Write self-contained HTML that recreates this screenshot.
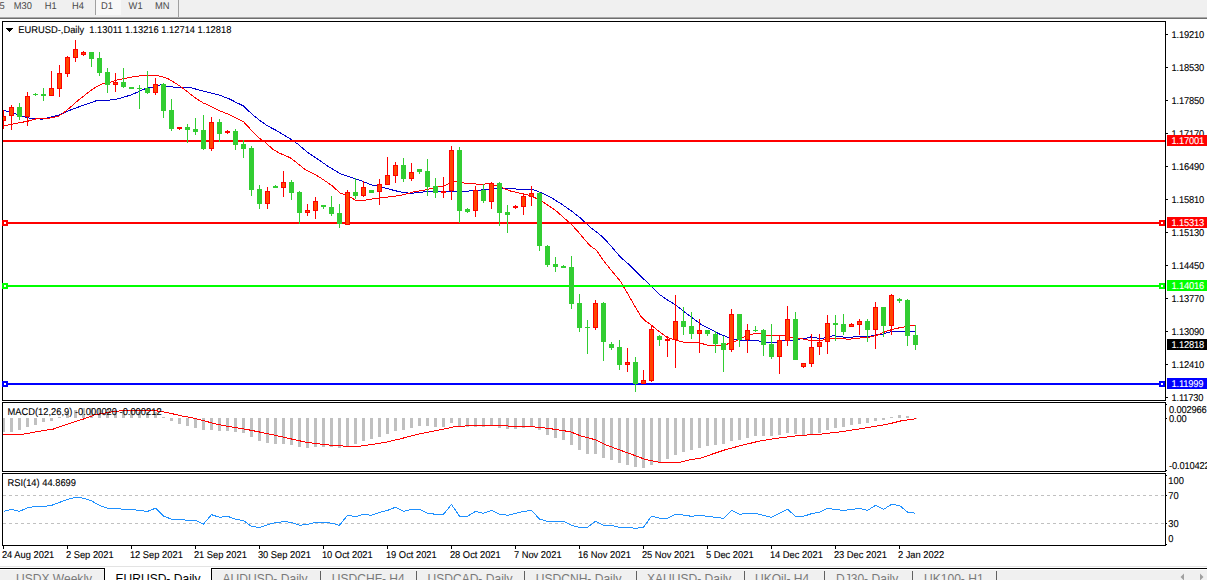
<!DOCTYPE html>
<html lang="en"><head><meta charset="utf-8"><title>EURUSD-,Daily</title>
<style>
html,body{margin:0;padding:0;background:#fff;}
body{width:1207px;height:580px;overflow:hidden;position:relative;font-family:"Liberation Sans", sans-serif;}
#tb{position:absolute;left:0;top:0;width:1207px;height:17px;background:#f0f0f0;}
#tb span{position:absolute;top:0;font-size:9.3px;line-height:12px;color:#4a4a4a;white-space:nowrap;}
#tabs{position:absolute;left:0;top:568px;width:1207px;height:12px;background:#f0f0f0;overflow:hidden;}
#tabs span{position:absolute;top:4px;font-size:12.05px;line-height:14px;color:#7a7a7a;white-space:nowrap;}
svg{position:absolute;left:0;top:0;}
svg text{font-family:"Liberation Sans", sans-serif;font-size:9.9px;text-rendering:geometricPrecision;fill:#000;stroke:#000;stroke-width:0.1px;}
svg text.ax{letter-spacing:-0.18px;}
</style></head><body>
<div id="tb">
<div style="position:absolute;left:96px;top:0;width:25px;height:15px;background:#f8f8f8"></div>
</div>
<svg width="1207" height="580" viewBox="0 0 1207 580">
<g shape-rendering="crispEdges">
<rect x="95" y="0" width="1" height="15" fill="#a0a0a0"/>
<rect x="178" y="0" width="1" height="17" fill="#a0a0a0"/>
<rect x="0" y="17" width="1207" height="1" fill="#a8a8a8"/>
<rect x="0" y="18" width="1207" height="1" fill="#6e6e6e"/>
<rect x="2.5" y="21.5" width="1163" height="379" fill="none" stroke="#000" stroke-width="1"/>
<rect x="2.5" y="402.5" width="1163" height="69" fill="none" stroke="#000" stroke-width="1"/>
<rect x="2.5" y="473.5" width="1163" height="72" fill="none" stroke="#000" stroke-width="1"/>
</g>
<defs><clipPath id="c1"><rect x="3" y="22" width="1162" height="378"/></clipPath>
<clipPath id="c2"><rect x="3" y="403" width="1162" height="68"/></clipPath>
<clipPath id="c3"><rect x="3" y="474" width="1162" height="71"/></clipPath></defs>
<g clip-path="url(#c1)" shape-rendering="crispEdges">
<polyline points="3.5,110.3 14.5,113.4 21.5,116.2 30.5,118.3 42.5,119.2 58.5,115.2 70.5,110.0 83.5,105.2 97.5,100.3 110.5,100.0 117.5,99.0 131.5,94.8 145.5,88.6 155.5,86.5 160.5,84.7 168.5,86.6 175.5,87.2 189.5,87.2 196.5,89.3 210.5,92.8 220.5,95.5 229.5,99.0 237.5,103.1 243.5,105.9 247.5,110.0 254.5,116.2 260.5,121.0 267.5,125.9 275.5,130.0 283.5,134.8 290.5,139.0 297.5,143.8 304.5,149.7 308.5,153.1 311.5,155.1 320.5,161.0 328.5,166.7 340.5,173.7 350.5,177.3 360.5,180.4 370.5,184.6 380.5,186.9 390.5,189.5 400.5,192.0 410.5,193.4 420.5,192.3 430.5,191.2 450.5,191.2 467.5,191.2 472.5,190.3 478.5,190.2 490.5,189.4 500.5,188.3 510.5,188.6 520.5,189.4 532.5,189.4 540.5,192.5 550.5,197.2 560.5,203.4 570.5,210.3 580.5,218.1 590.5,227.4 600.5,235.2 605.5,240.0 612.5,247.8 620.5,257.2 630.5,265.9 640.5,276.2 650.5,285.2 660.5,295.2 667.5,300.0 675.5,304.8 683.5,311.2 692.5,318.1 700.5,324.1 710.5,329.3 718.5,333.6 727.5,337.1 735.5,339.3 742.5,340.5 752.5,340.6 758.5,340.6 762.5,342.4 775.5,342.4 780.5,340.9 790.5,340.6 800.5,339.0 805.5,338.5 810.5,337.0 815.5,337.8 820.5,338.5 825.5,337.8 832.5,335.9 838.5,336.2 845.5,337.5 850.5,337.5 856.5,336.2 870.5,336.2 876.5,335.0 882.5,334.3 888.5,332.3 893.5,331.2 900.5,331.2 915.5,331.2" fill="none" stroke="#0000cd" stroke-width="1"/>
<polyline points="3.5,125.9 14.5,123.8 28.5,121.0 35.5,119.0 48.5,118.3 58.5,116.2 63.5,112.8 69.5,108.0 76.5,101.7 83.5,96.2 90.5,90.7 96.5,86.6 102.5,83.8 110.5,82.1 117.5,79.7 124.5,78.6 135.5,76.2 152.5,75.2 160.5,76.2 168.5,79.0 175.5,83.1 182.5,87.9 189.5,93.4 196.5,98.7 203.5,103.1 210.5,106.1 220.5,111.1 227.5,113.9 235.5,117.6 243.5,121.7 250.5,129.3 258.5,137.6 265.5,142.5 272.5,149.0 279.5,153.1 290.5,157.9 297.5,163.4 304.5,169.0 308.5,171.4 316.5,175.3 324.5,180.4 332.5,186.1 340.5,193.4 347.5,195.4 355.5,200.1 365.5,200.1 375.5,198.5 385.5,197.3 398.5,195.7 406.5,193.9 414.5,191.6 425.5,190.0 435.5,187.2 444.5,185.7 450.5,182.7 455.5,181.2 462.5,182.7 465.5,183.3 470.5,183.7 480.5,184.3 490.5,183.7 500.5,187.1 510.5,191.0 520.5,193.3 530.5,195.6 540.5,200.3 548.5,205.7 555.5,210.3 562.5,216.6 570.5,223.5 578.5,232.1 585.5,240.6 590.5,246.0 596.5,250.3 603.5,260.7 610.5,269.3 620.5,281.4 626.5,291.7 633.5,303.8 640.5,315.9 644.5,320.2 650.5,324.5 658.5,331.0 666.5,337.1 675.5,340.2 683.5,342.2 695.5,342.8 700.5,343.1 707.5,345.2 715.5,345.7 723.5,345.2 730.5,343.1 737.5,340.5 743.5,337.1 750.5,334.5 755.5,333.4 760.5,333.9 767.5,335.4 775.5,335.4 785.5,335.9 792.5,337.8 800.5,338.5 808.5,340.1 815.5,340.6 822.5,340.1 830.5,338.5 840.5,338.5 848.5,339.3 855.5,338.5 862.5,337.8 870.5,337.0 877.5,335.0 885.5,331.6 890.5,330.0 895.5,328.5 903.5,327.2 908.5,325.7 912.5,325.3 915.5,325.7" fill="none" stroke="#ff0000" stroke-width="1"/>
<rect x="3" y="140" width="1162" height="2" fill="#ff0000"/>
<rect x="3" y="222" width="1162" height="2" fill="#ff0000"/>
<rect x="3" y="285" width="1162" height="2" fill="#00ff00"/>
<rect x="3" y="383" width="1162" height="2" fill="#0000ff"/>
<rect x="3" y="110" width="1" height="19" fill="#ff0000"/>
<rect x="1" y="116" width="5" height="5" fill="#ff0000"/>
<rect x="2" y="117" width="3" height="3" fill="#ff4500"/>
<rect x="11" y="105" width="1" height="25" fill="#ff0000"/>
<rect x="9" y="107" width="5" height="9" fill="#ff0000"/>
<rect x="10" y="108" width="3" height="7" fill="#ff4500"/>
<rect x="19" y="103" width="1" height="17" fill="#32cd32"/>
<rect x="17" y="107" width="5" height="10" fill="#32cd32"/>
<rect x="27" y="92" width="1" height="34" fill="#ff0000"/>
<rect x="25" y="96" width="5" height="21" fill="#ff0000"/>
<rect x="26" y="97" width="3" height="19" fill="#ff4500"/>
<rect x="35" y="93" width="1" height="3" fill="#32cd32"/>
<rect x="33" y="94" width="5" height="1" fill="#32cd32"/>
<rect x="43" y="88" width="1" height="13" fill="#32cd32"/>
<rect x="41" y="94" width="5" height="2" fill="#32cd32"/>
<rect x="51" y="71" width="1" height="25" fill="#ff0000"/>
<rect x="49" y="88" width="5" height="8" fill="#ff0000"/>
<rect x="50" y="89" width="3" height="6" fill="#ff4500"/>
<rect x="59" y="65" width="1" height="32" fill="#ff0000"/>
<rect x="57" y="73" width="5" height="16" fill="#ff0000"/>
<rect x="58" y="74" width="3" height="14" fill="#ff4500"/>
<rect x="67" y="56" width="1" height="21" fill="#ff0000"/>
<rect x="65" y="57" width="5" height="17" fill="#ff0000"/>
<rect x="66" y="58" width="3" height="15" fill="#ff4500"/>
<rect x="75" y="40" width="1" height="22" fill="#ff0000"/>
<rect x="73" y="49" width="5" height="9" fill="#ff0000"/>
<rect x="74" y="50" width="3" height="7" fill="#ff4500"/>
<rect x="83" y="51" width="1" height="5" fill="#ff0000"/>
<rect x="81" y="52" width="5" height="3" fill="#ff0000"/>
<rect x="82" y="53" width="3" height="1" fill="#ff4500"/>
<rect x="91" y="52" width="1" height="15" fill="#32cd32"/>
<rect x="89" y="52" width="5" height="7" fill="#32cd32"/>
<rect x="99" y="52" width="1" height="24" fill="#32cd32"/>
<rect x="97" y="58" width="5" height="15" fill="#32cd32"/>
<rect x="107" y="68" width="1" height="25" fill="#32cd32"/>
<rect x="105" y="72" width="5" height="13" fill="#32cd32"/>
<rect x="115" y="73" width="1" height="19" fill="#ff0000"/>
<rect x="113" y="82" width="5" height="3" fill="#ff0000"/>
<rect x="114" y="83" width="3" height="1" fill="#ff4500"/>
<rect x="123" y="68" width="1" height="20" fill="#32cd32"/>
<rect x="121" y="82" width="5" height="5" fill="#32cd32"/>
<rect x="131" y="87" width="1" height="2" fill="#32cd32"/>
<rect x="129" y="87" width="5" height="2" fill="#32cd32"/>
<rect x="139" y="85" width="1" height="24" fill="#32cd32"/>
<rect x="137" y="88" width="5" height="1" fill="#32cd32"/>
<rect x="147" y="71" width="1" height="23" fill="#32cd32"/>
<rect x="145" y="88" width="5" height="5" fill="#32cd32"/>
<rect x="155" y="78" width="1" height="17" fill="#ff0000"/>
<rect x="153" y="84" width="5" height="9" fill="#ff0000"/>
<rect x="154" y="85" width="3" height="7" fill="#ff4500"/>
<rect x="163" y="83" width="1" height="35" fill="#32cd32"/>
<rect x="161" y="84" width="5" height="27" fill="#32cd32"/>
<rect x="171" y="99" width="1" height="32" fill="#32cd32"/>
<rect x="169" y="110" width="5" height="19" fill="#32cd32"/>
<rect x="179" y="127" width="1" height="3" fill="#ff0000"/>
<rect x="177" y="127" width="5" height="2" fill="#ff0000"/>
<rect x="187" y="124" width="1" height="19" fill="#32cd32"/>
<rect x="185" y="127" width="5" height="3" fill="#32cd32"/>
<rect x="195" y="118" width="1" height="17" fill="#32cd32"/>
<rect x="193" y="129" width="5" height="3" fill="#32cd32"/>
<rect x="203" y="115" width="1" height="35" fill="#32cd32"/>
<rect x="201" y="130" width="5" height="19" fill="#32cd32"/>
<rect x="211" y="117" width="1" height="34" fill="#ff0000"/>
<rect x="209" y="122" width="5" height="27" fill="#ff0000"/>
<rect x="210" y="123" width="3" height="25" fill="#ff4500"/>
<rect x="219" y="119" width="1" height="23" fill="#32cd32"/>
<rect x="217" y="122" width="5" height="12" fill="#32cd32"/>
<rect x="227" y="130" width="1" height="4" fill="#ff0000"/>
<rect x="225" y="131" width="5" height="2" fill="#ff0000"/>
<rect x="235" y="129" width="1" height="21" fill="#32cd32"/>
<rect x="233" y="131" width="5" height="14" fill="#32cd32"/>
<rect x="243" y="140" width="1" height="18" fill="#32cd32"/>
<rect x="241" y="144" width="5" height="5" fill="#32cd32"/>
<rect x="251" y="146" width="1" height="50" fill="#32cd32"/>
<rect x="249" y="148" width="5" height="42" fill="#32cd32"/>
<rect x="259" y="185" width="1" height="24" fill="#32cd32"/>
<rect x="257" y="189" width="5" height="15" fill="#32cd32"/>
<rect x="267" y="187" width="1" height="22" fill="#ff0000"/>
<rect x="265" y="191" width="5" height="13" fill="#ff0000"/>
<rect x="266" y="192" width="3" height="11" fill="#ff4500"/>
<rect x="275" y="185" width="1" height="3" fill="#32cd32"/>
<rect x="273" y="186" width="5" height="2" fill="#32cd32"/>
<rect x="283" y="171" width="1" height="26" fill="#ff0000"/>
<rect x="281" y="182" width="5" height="6" fill="#ff0000"/>
<rect x="282" y="183" width="3" height="4" fill="#ff4500"/>
<rect x="291" y="180" width="1" height="20" fill="#32cd32"/>
<rect x="289" y="182" width="5" height="11" fill="#32cd32"/>
<rect x="299" y="191" width="1" height="33" fill="#32cd32"/>
<rect x="297" y="192" width="5" height="21" fill="#32cd32"/>
<rect x="307" y="204" width="1" height="12" fill="#ff0000"/>
<rect x="305" y="210" width="5" height="3" fill="#ff0000"/>
<rect x="306" y="211" width="3" height="1" fill="#ff4500"/>
<rect x="315" y="197" width="1" height="22" fill="#ff0000"/>
<rect x="313" y="201" width="5" height="10" fill="#ff0000"/>
<rect x="314" y="202" width="3" height="8" fill="#ff4500"/>
<rect x="323" y="205" width="1" height="4" fill="#32cd32"/>
<rect x="321" y="205" width="5" height="2" fill="#32cd32"/>
<rect x="331" y="196" width="1" height="20" fill="#32cd32"/>
<rect x="329" y="207" width="5" height="7" fill="#32cd32"/>
<rect x="339" y="204" width="1" height="24" fill="#32cd32"/>
<rect x="337" y="213" width="5" height="11" fill="#32cd32"/>
<rect x="347" y="190" width="1" height="35" fill="#ff0000"/>
<rect x="345" y="192" width="5" height="33" fill="#ff0000"/>
<rect x="346" y="193" width="3" height="31" fill="#ff4500"/>
<rect x="355" y="178" width="1" height="21" fill="#32cd32"/>
<rect x="353" y="192" width="5" height="4" fill="#32cd32"/>
<rect x="363" y="181" width="1" height="16" fill="#ff0000"/>
<rect x="361" y="187" width="5" height="9" fill="#ff0000"/>
<rect x="362" y="188" width="3" height="7" fill="#ff4500"/>
<rect x="371" y="190" width="1" height="3" fill="#32cd32"/>
<rect x="369" y="190" width="5" height="3" fill="#32cd32"/>
<rect x="379" y="179" width="1" height="26" fill="#ff0000"/>
<rect x="377" y="184" width="5" height="8" fill="#ff0000"/>
<rect x="378" y="185" width="3" height="6" fill="#ff4500"/>
<rect x="387" y="157" width="1" height="28" fill="#ff0000"/>
<rect x="385" y="175" width="5" height="10" fill="#ff0000"/>
<rect x="386" y="176" width="3" height="8" fill="#ff4500"/>
<rect x="395" y="162" width="1" height="21" fill="#ff0000"/>
<rect x="393" y="165" width="5" height="11" fill="#ff0000"/>
<rect x="394" y="166" width="3" height="9" fill="#ff4500"/>
<rect x="403" y="158" width="1" height="24" fill="#32cd32"/>
<rect x="401" y="165" width="5" height="14" fill="#32cd32"/>
<rect x="411" y="163" width="1" height="18" fill="#ff0000"/>
<rect x="409" y="172" width="5" height="7" fill="#ff0000"/>
<rect x="410" y="173" width="3" height="5" fill="#ff4500"/>
<rect x="419" y="169" width="1" height="5" fill="#32cd32"/>
<rect x="417" y="169" width="5" height="3" fill="#32cd32"/>
<rect x="427" y="159" width="1" height="37" fill="#32cd32"/>
<rect x="425" y="171" width="5" height="16" fill="#32cd32"/>
<rect x="435" y="178" width="1" height="20" fill="#32cd32"/>
<rect x="433" y="186" width="5" height="7" fill="#32cd32"/>
<rect x="443" y="177" width="1" height="21" fill="#ff0000"/>
<rect x="441" y="191" width="5" height="2" fill="#ff0000"/>
<rect x="451" y="146" width="1" height="54" fill="#ff0000"/>
<rect x="449" y="150" width="5" height="41" fill="#ff0000"/>
<rect x="450" y="151" width="3" height="39" fill="#ff4500"/>
<rect x="459" y="147" width="1" height="76" fill="#32cd32"/>
<rect x="457" y="150" width="5" height="61" fill="#32cd32"/>
<rect x="467" y="208" width="1" height="5" fill="#32cd32"/>
<rect x="465" y="209" width="5" height="3" fill="#32cd32"/>
<rect x="475" y="186" width="1" height="31" fill="#ff0000"/>
<rect x="473" y="190" width="5" height="21" fill="#ff0000"/>
<rect x="474" y="191" width="3" height="19" fill="#ff4500"/>
<rect x="483" y="184" width="1" height="19" fill="#32cd32"/>
<rect x="481" y="190" width="5" height="11" fill="#32cd32"/>
<rect x="491" y="182" width="1" height="27" fill="#ff0000"/>
<rect x="489" y="183" width="5" height="19" fill="#ff0000"/>
<rect x="490" y="184" width="3" height="17" fill="#ff4500"/>
<rect x="499" y="182" width="1" height="44" fill="#32cd32"/>
<rect x="497" y="183" width="5" height="30" fill="#32cd32"/>
<rect x="507" y="205" width="1" height="28" fill="#32cd32"/>
<rect x="505" y="212" width="5" height="3" fill="#32cd32"/>
<rect x="515" y="205" width="1" height="4" fill="#ff0000"/>
<rect x="513" y="206" width="5" height="2" fill="#ff0000"/>
<rect x="523" y="193" width="1" height="22" fill="#ff0000"/>
<rect x="521" y="196" width="5" height="11" fill="#ff0000"/>
<rect x="522" y="197" width="3" height="9" fill="#ff4500"/>
<rect x="531" y="186" width="1" height="20" fill="#ff0000"/>
<rect x="529" y="193" width="5" height="4" fill="#ff0000"/>
<rect x="530" y="194" width="3" height="2" fill="#ff4500"/>
<rect x="539" y="192" width="1" height="59" fill="#32cd32"/>
<rect x="537" y="193" width="5" height="53" fill="#32cd32"/>
<rect x="547" y="245" width="1" height="22" fill="#32cd32"/>
<rect x="545" y="246" width="5" height="19" fill="#32cd32"/>
<rect x="555" y="257" width="1" height="15" fill="#32cd32"/>
<rect x="553" y="264" width="5" height="3" fill="#32cd32"/>
<rect x="563" y="265" width="1" height="3" fill="#32cd32"/>
<rect x="561" y="266" width="5" height="2" fill="#32cd32"/>
<rect x="571" y="256" width="1" height="53" fill="#32cd32"/>
<rect x="569" y="267" width="5" height="37" fill="#32cd32"/>
<rect x="579" y="294" width="1" height="38" fill="#32cd32"/>
<rect x="577" y="303" width="5" height="25" fill="#32cd32"/>
<rect x="587" y="320" width="1" height="34" fill="#32cd32"/>
<rect x="585" y="327" width="5" height="1" fill="#32cd32"/>
<rect x="595" y="300" width="1" height="30" fill="#ff0000"/>
<rect x="593" y="303" width="5" height="25" fill="#ff0000"/>
<rect x="594" y="304" width="3" height="23" fill="#ff4500"/>
<rect x="603" y="302" width="1" height="59" fill="#32cd32"/>
<rect x="601" y="303" width="5" height="39" fill="#32cd32"/>
<rect x="611" y="342" width="1" height="8" fill="#32cd32"/>
<rect x="609" y="344" width="5" height="4" fill="#32cd32"/>
<rect x="619" y="340" width="1" height="30" fill="#32cd32"/>
<rect x="617" y="347" width="5" height="18" fill="#32cd32"/>
<rect x="627" y="348" width="1" height="24" fill="#ff0000"/>
<rect x="625" y="362" width="5" height="3" fill="#ff0000"/>
<rect x="626" y="363" width="3" height="1" fill="#ff4500"/>
<rect x="635" y="357" width="1" height="35" fill="#32cd32"/>
<rect x="633" y="362" width="5" height="22" fill="#32cd32"/>
<rect x="643" y="370" width="1" height="14" fill="#ff0000"/>
<rect x="641" y="380" width="5" height="4" fill="#ff0000"/>
<rect x="642" y="381" width="3" height="2" fill="#ff4500"/>
<rect x="651" y="325" width="1" height="57" fill="#ff0000"/>
<rect x="649" y="329" width="5" height="52" fill="#ff0000"/>
<rect x="650" y="330" width="3" height="50" fill="#ff4500"/>
<rect x="659" y="335" width="1" height="11" fill="#32cd32"/>
<rect x="657" y="336" width="5" height="4" fill="#32cd32"/>
<rect x="667" y="336" width="1" height="21" fill="#ff0000"/>
<rect x="665" y="339" width="5" height="2" fill="#ff0000"/>
<rect x="675" y="295" width="1" height="73" fill="#ff0000"/>
<rect x="673" y="321" width="5" height="19" fill="#ff0000"/>
<rect x="674" y="322" width="3" height="17" fill="#ff4500"/>
<rect x="683" y="307" width="1" height="28" fill="#32cd32"/>
<rect x="681" y="321" width="5" height="6" fill="#32cd32"/>
<rect x="691" y="312" width="1" height="27" fill="#32cd32"/>
<rect x="689" y="326" width="5" height="8" fill="#32cd32"/>
<rect x="699" y="319" width="1" height="34" fill="#ff0000"/>
<rect x="697" y="330" width="5" height="4" fill="#ff0000"/>
<rect x="698" y="331" width="3" height="2" fill="#ff4500"/>
<rect x="707" y="330" width="1" height="6" fill="#32cd32"/>
<rect x="705" y="330" width="5" height="4" fill="#32cd32"/>
<rect x="715" y="331" width="1" height="22" fill="#32cd32"/>
<rect x="713" y="334" width="5" height="10" fill="#32cd32"/>
<rect x="723" y="336" width="1" height="36" fill="#32cd32"/>
<rect x="721" y="343" width="5" height="7" fill="#32cd32"/>
<rect x="731" y="309" width="1" height="43" fill="#ff0000"/>
<rect x="729" y="314" width="5" height="36" fill="#ff0000"/>
<rect x="730" y="315" width="3" height="34" fill="#ff4500"/>
<rect x="739" y="314" width="1" height="33" fill="#32cd32"/>
<rect x="737" y="314" width="5" height="26" fill="#32cd32"/>
<rect x="747" y="324" width="1" height="29" fill="#ff0000"/>
<rect x="745" y="330" width="5" height="10" fill="#ff0000"/>
<rect x="746" y="331" width="3" height="8" fill="#ff4500"/>
<rect x="755" y="326" width="1" height="6" fill="#32cd32"/>
<rect x="753" y="330" width="5" height="1" fill="#32cd32"/>
<rect x="763" y="329" width="1" height="27" fill="#32cd32"/>
<rect x="761" y="330" width="5" height="15" fill="#32cd32"/>
<rect x="771" y="324" width="1" height="35" fill="#32cd32"/>
<rect x="769" y="344" width="5" height="13" fill="#32cd32"/>
<rect x="779" y="335" width="1" height="39" fill="#ff0000"/>
<rect x="777" y="340" width="5" height="17" fill="#ff0000"/>
<rect x="778" y="341" width="3" height="15" fill="#ff4500"/>
<rect x="787" y="306" width="1" height="40" fill="#ff0000"/>
<rect x="785" y="319" width="5" height="22" fill="#ff0000"/>
<rect x="786" y="320" width="3" height="20" fill="#ff4500"/>
<rect x="795" y="312" width="1" height="48" fill="#32cd32"/>
<rect x="793" y="319" width="5" height="41" fill="#32cd32"/>
<rect x="803" y="363" width="1" height="5" fill="#ff0000"/>
<rect x="801" y="363" width="5" height="4" fill="#ff0000"/>
<rect x="802" y="364" width="3" height="2" fill="#ff4500"/>
<rect x="811" y="334" width="1" height="33" fill="#ff0000"/>
<rect x="809" y="347" width="5" height="17" fill="#ff0000"/>
<rect x="810" y="348" width="3" height="15" fill="#ff4500"/>
<rect x="819" y="334" width="1" height="21" fill="#ff0000"/>
<rect x="817" y="342" width="5" height="5" fill="#ff0000"/>
<rect x="818" y="343" width="3" height="3" fill="#ff4500"/>
<rect x="827" y="315" width="1" height="39" fill="#ff0000"/>
<rect x="825" y="323" width="5" height="19" fill="#ff0000"/>
<rect x="826" y="324" width="3" height="17" fill="#ff4500"/>
<rect x="835" y="315" width="1" height="26" fill="#32cd32"/>
<rect x="833" y="323" width="5" height="2" fill="#32cd32"/>
<rect x="843" y="314" width="1" height="21" fill="#32cd32"/>
<rect x="841" y="324" width="5" height="8" fill="#32cd32"/>
<rect x="851" y="323" width="1" height="4" fill="#ff0000"/>
<rect x="849" y="324" width="5" height="3" fill="#ff0000"/>
<rect x="850" y="325" width="3" height="1" fill="#ff4500"/>
<rect x="859" y="319" width="1" height="16" fill="#ff0000"/>
<rect x="857" y="321" width="5" height="4" fill="#ff0000"/>
<rect x="858" y="322" width="3" height="2" fill="#ff4500"/>
<rect x="867" y="319" width="1" height="23" fill="#32cd32"/>
<rect x="865" y="321" width="5" height="9" fill="#32cd32"/>
<rect x="875" y="302" width="1" height="47" fill="#ff0000"/>
<rect x="873" y="307" width="5" height="23" fill="#ff0000"/>
<rect x="874" y="308" width="3" height="21" fill="#ff4500"/>
<rect x="883" y="307" width="1" height="30" fill="#32cd32"/>
<rect x="881" y="307" width="5" height="19" fill="#32cd32"/>
<rect x="891" y="294" width="1" height="41" fill="#ff0000"/>
<rect x="889" y="295" width="5" height="31" fill="#ff0000"/>
<rect x="890" y="296" width="3" height="29" fill="#ff4500"/>
<rect x="899" y="298" width="1" height="5" fill="#32cd32"/>
<rect x="897" y="299" width="5" height="2" fill="#32cd32"/>
<rect x="907" y="299" width="1" height="47" fill="#32cd32"/>
<rect x="905" y="300" width="5" height="36" fill="#32cd32"/>
<rect x="915" y="325" width="1" height="25" fill="#32cd32"/>
<rect x="913" y="335" width="5" height="10" fill="#32cd32"/>
</g>
<g shape-rendering="crispEdges">
<rect x="2" y="220" width="6" height="6" fill="#ff0000"/>
<rect x="4" y="222" width="2" height="2" fill="#fff"/>
<rect x="1159" y="220" width="6" height="6" fill="#ff0000"/>
<rect x="1161" y="222" width="2" height="2" fill="#fff"/>
<rect x="2" y="283" width="6" height="6" fill="#00ff00"/>
<rect x="4" y="285" width="2" height="2" fill="#fff"/>
<rect x="1159" y="283" width="6" height="6" fill="#00ff00"/>
<rect x="1161" y="285" width="2" height="2" fill="#fff"/>
<rect x="2" y="381" width="6" height="6" fill="#0000ff"/>
<rect x="4" y="383" width="2" height="2" fill="#fff"/>
<rect x="1159" y="381" width="6" height="6" fill="#0000ff"/>
<rect x="1161" y="383" width="2" height="2" fill="#fff"/>
</g>
<g clip-path="url(#c2)" shape-rendering="crispEdges">
<rect x="2" y="418" width="3" height="14" fill="#c0c0c0"/>
<rect x="10" y="418" width="3" height="14" fill="#c0c0c0"/>
<rect x="18" y="418" width="3" height="12" fill="#c0c0c0"/>
<rect x="26" y="418" width="3" height="9" fill="#c0c0c0"/>
<rect x="34" y="418" width="3" height="7" fill="#c0c0c0"/>
<rect x="42" y="418" width="3" height="4" fill="#c0c0c0"/>
<rect x="50" y="418" width="3" height="3" fill="#c0c0c0"/>
<rect x="58" y="417" width="3" height="1" fill="#c0c0c0"/>
<rect x="66" y="413" width="3" height="5" fill="#c0c0c0"/>
<rect x="74" y="410" width="3" height="8" fill="#c0c0c0"/>
<rect x="82" y="408" width="3" height="10" fill="#c0c0c0"/>
<rect x="90" y="408" width="3" height="10" fill="#c0c0c0"/>
<rect x="98" y="408" width="3" height="10" fill="#c0c0c0"/>
<rect x="106" y="409" width="3" height="9" fill="#c0c0c0"/>
<rect x="114" y="410" width="3" height="8" fill="#c0c0c0"/>
<rect x="122" y="410" width="3" height="8" fill="#c0c0c0"/>
<rect x="130" y="411" width="3" height="7" fill="#c0c0c0"/>
<rect x="138" y="412" width="3" height="6" fill="#c0c0c0"/>
<rect x="146" y="412" width="3" height="6" fill="#c0c0c0"/>
<rect x="154" y="412" width="3" height="6" fill="#c0c0c0"/>
<rect x="162" y="417" width="3" height="1" fill="#c0c0c0"/>
<rect x="170" y="418" width="3" height="3" fill="#c0c0c0"/>
<rect x="178" y="418" width="3" height="6" fill="#c0c0c0"/>
<rect x="186" y="418" width="3" height="8" fill="#c0c0c0"/>
<rect x="194" y="418" width="3" height="10" fill="#c0c0c0"/>
<rect x="202" y="418" width="3" height="12" fill="#c0c0c0"/>
<rect x="210" y="418" width="3" height="12" fill="#c0c0c0"/>
<rect x="218" y="418" width="3" height="13" fill="#c0c0c0"/>
<rect x="226" y="418" width="3" height="13" fill="#c0c0c0"/>
<rect x="234" y="418" width="3" height="14" fill="#c0c0c0"/>
<rect x="242" y="418" width="3" height="15" fill="#c0c0c0"/>
<rect x="250" y="418" width="3" height="19" fill="#c0c0c0"/>
<rect x="258" y="418" width="3" height="23" fill="#c0c0c0"/>
<rect x="266" y="418" width="3" height="25" fill="#c0c0c0"/>
<rect x="274" y="418" width="3" height="26" fill="#c0c0c0"/>
<rect x="282" y="418" width="3" height="26" fill="#c0c0c0"/>
<rect x="290" y="418" width="3" height="27" fill="#c0c0c0"/>
<rect x="298" y="418" width="3" height="29" fill="#c0c0c0"/>
<rect x="306" y="418" width="3" height="30" fill="#c0c0c0"/>
<rect x="314" y="418" width="3" height="29" fill="#c0c0c0"/>
<rect x="322" y="418" width="3" height="29" fill="#c0c0c0"/>
<rect x="330" y="418" width="3" height="29" fill="#c0c0c0"/>
<rect x="338" y="418" width="3" height="30" fill="#c0c0c0"/>
<rect x="346" y="418" width="3" height="28" fill="#c0c0c0"/>
<rect x="354" y="418" width="3" height="26" fill="#c0c0c0"/>
<rect x="362" y="418" width="3" height="23" fill="#c0c0c0"/>
<rect x="370" y="418" width="3" height="21" fill="#c0c0c0"/>
<rect x="378" y="418" width="3" height="19" fill="#c0c0c0"/>
<rect x="386" y="418" width="3" height="16" fill="#c0c0c0"/>
<rect x="394" y="418" width="3" height="13" fill="#c0c0c0"/>
<rect x="402" y="418" width="3" height="12" fill="#c0c0c0"/>
<rect x="410" y="418" width="3" height="10" fill="#c0c0c0"/>
<rect x="418" y="418" width="3" height="8" fill="#c0c0c0"/>
<rect x="426" y="418" width="3" height="8" fill="#c0c0c0"/>
<rect x="434" y="418" width="3" height="9" fill="#c0c0c0"/>
<rect x="442" y="418" width="3" height="9" fill="#c0c0c0"/>
<rect x="450" y="418" width="3" height="5" fill="#c0c0c0"/>
<rect x="458" y="418" width="3" height="9" fill="#c0c0c0"/>
<rect x="466" y="418" width="3" height="9" fill="#c0c0c0"/>
<rect x="474" y="418" width="3" height="9" fill="#c0c0c0"/>
<rect x="482" y="418" width="3" height="9" fill="#c0c0c0"/>
<rect x="490" y="418" width="3" height="8" fill="#c0c0c0"/>
<rect x="498" y="418" width="3" height="10" fill="#c0c0c0"/>
<rect x="506" y="418" width="3" height="11" fill="#c0c0c0"/>
<rect x="514" y="418" width="3" height="11" fill="#c0c0c0"/>
<rect x="522" y="418" width="3" height="10" fill="#c0c0c0"/>
<rect x="530" y="418" width="3" height="9" fill="#c0c0c0"/>
<rect x="538" y="418" width="3" height="12" fill="#c0c0c0"/>
<rect x="546" y="418" width="3" height="17" fill="#c0c0c0"/>
<rect x="554" y="418" width="3" height="20" fill="#c0c0c0"/>
<rect x="562" y="418" width="3" height="22" fill="#c0c0c0"/>
<rect x="570" y="418" width="3" height="27" fill="#c0c0c0"/>
<rect x="578" y="418" width="3" height="32" fill="#c0c0c0"/>
<rect x="586" y="418" width="3" height="36" fill="#c0c0c0"/>
<rect x="594" y="418" width="3" height="36" fill="#c0c0c0"/>
<rect x="602" y="418" width="3" height="40" fill="#c0c0c0"/>
<rect x="610" y="418" width="3" height="42" fill="#c0c0c0"/>
<rect x="618" y="418" width="3" height="45" fill="#c0c0c0"/>
<rect x="626" y="418" width="3" height="47" fill="#c0c0c0"/>
<rect x="634" y="418" width="3" height="49" fill="#c0c0c0"/>
<rect x="642" y="418" width="3" height="50" fill="#c0c0c0"/>
<rect x="650" y="418" width="3" height="47" fill="#c0c0c0"/>
<rect x="658" y="418" width="3" height="44" fill="#c0c0c0"/>
<rect x="666" y="418" width="3" height="41" fill="#c0c0c0"/>
<rect x="674" y="418" width="3" height="37" fill="#c0c0c0"/>
<rect x="682" y="418" width="3" height="34" fill="#c0c0c0"/>
<rect x="690" y="418" width="3" height="32" fill="#c0c0c0"/>
<rect x="698" y="418" width="3" height="30" fill="#c0c0c0"/>
<rect x="706" y="418" width="3" height="28" fill="#c0c0c0"/>
<rect x="714" y="418" width="3" height="27" fill="#c0c0c0"/>
<rect x="722" y="418" width="3" height="26" fill="#c0c0c0"/>
<rect x="730" y="418" width="3" height="23" fill="#c0c0c0"/>
<rect x="738" y="418" width="3" height="22" fill="#c0c0c0"/>
<rect x="746" y="418" width="3" height="20" fill="#c0c0c0"/>
<rect x="754" y="418" width="3" height="18" fill="#c0c0c0"/>
<rect x="762" y="418" width="3" height="18" fill="#c0c0c0"/>
<rect x="770" y="418" width="3" height="18" fill="#c0c0c0"/>
<rect x="778" y="418" width="3" height="17" fill="#c0c0c0"/>
<rect x="786" y="418" width="3" height="15" fill="#c0c0c0"/>
<rect x="794" y="418" width="3" height="16" fill="#c0c0c0"/>
<rect x="802" y="418" width="3" height="17" fill="#c0c0c0"/>
<rect x="810" y="418" width="3" height="16" fill="#c0c0c0"/>
<rect x="818" y="418" width="3" height="15" fill="#c0c0c0"/>
<rect x="826" y="418" width="3" height="12" fill="#c0c0c0"/>
<rect x="834" y="418" width="3" height="10" fill="#c0c0c0"/>
<rect x="842" y="418" width="3" height="9" fill="#c0c0c0"/>
<rect x="850" y="418" width="3" height="7" fill="#c0c0c0"/>
<rect x="858" y="418" width="3" height="6" fill="#c0c0c0"/>
<rect x="866" y="418" width="3" height="5" fill="#c0c0c0"/>
<rect x="874" y="418" width="3" height="3" fill="#c0c0c0"/>
<rect x="882" y="418" width="3" height="2" fill="#c0c0c0"/>
<rect x="890" y="417" width="3" height="1" fill="#c0c0c0"/>
<rect x="898" y="415" width="3" height="3" fill="#c0c0c0"/>
<rect x="906" y="416" width="3" height="2" fill="#c0c0c0"/>
<rect x="914" y="418" width="3" height="1" fill="#c0c0c0"/>
<polyline points="3.5,434.5 22.5,434.3 33.5,432.3 53.5,429.0 70.5,423.2 83.5,419.0 95.5,414.6 108.5,412.4 120.5,410.8 135.5,410.3 150.5,410.3 160.5,411.3 170.5,413.3 180.5,415.7 190.5,417.4 200.5,419.8 215.5,423.9 230.5,426.8 245.5,429.2 260.5,432.2 275.5,435.4 290.5,438.8 305.5,442.1 320.5,444.1 335.5,445.7 350.5,446.3 360.5,446.1 370.5,444.7 385.5,442.3 400.5,438.8 415.5,434.8 430.5,431.6 445.5,428.8 455.5,426.4 470.5,425.8 485.5,425.4 500.5,425.4 510.5,426.2 525.5,426.4 540.5,427.4 555.5,429.4 570.5,431.8 580.5,435.8 595.5,439.8 605.5,444.7 620.5,450.3 635.5,455.7 645.5,459.6 655.5,461.5 660.5,462.4 678.5,462.6 690.5,459.6 700.5,458.3 710.5,454.7 725.5,449.7 740.5,445.7 760.5,440.8 780.5,437.8 800.5,435.4 820.5,434.2 840.5,431.8 860.5,428.8 880.5,425.4 890.5,423.5 900.5,421.0 916.5,418.6" fill="none" stroke="#ff0000" stroke-width="1"/>
</g>
<g clip-path="url(#c3)">
<g shape-rendering="crispEdges">
<line x1="3" y1="495.5" x2="1165" y2="495.5" stroke="#c0c0c0" stroke-width="1" stroke-dasharray="3,3"/>
<line x1="3" y1="523.5" x2="1165" y2="523.5" stroke="#c0c0c0" stroke-width="1" stroke-dasharray="3,3"/>
</g>
<polyline points="3.5,511.4 11.5,509.4 19.5,511.4 27.5,507.8 35.5,506.4 43.5,506.4 51.5,505.4 59.5,502.4 67.5,499.4 75.5,497.4 83.5,498.2 91.5,500.8 99.5,505.4 107.5,508.2 115.5,508.2 123.5,509.4 131.5,509.4 139.5,510.4 147.5,511.4 155.5,508.2 163.5,516.1 171.5,519.1 179.5,519.3 187.5,520.3 195.5,520.3 203.5,524.1 211.5,514.7 219.5,517.3 227.5,516.3 235.5,519.1 243.5,520.7 251.5,526.3 259.5,527.7 267.5,524.7 275.5,522.7 283.5,521.7 291.5,522.3 299.5,525.3 307.5,524.3 315.5,522.3 323.5,522.7 331.5,523.1 339.5,525.3 347.5,515.3 355.5,516.7 363.5,514.3 371.5,515.3 379.5,512.3 387.5,510.4 395.5,507.2 403.5,511.4 411.5,509.4 419.5,509.4 427.5,513.1 435.5,514.3 443.5,514.3 451.5,504.4 459.5,516.3 467.5,516.3 475.5,511.4 483.5,513.3 491.5,510.4 499.5,514.1 507.5,515.3 515.5,513.3 523.5,511.4 531.5,510.4 539.5,519.1 547.5,521.3 555.5,521.3 563.5,521.3 571.5,525.3 579.5,527.3 587.5,527.3 595.5,521.3 603.5,525.3 611.5,525.3 619.5,527.3 627.5,527.3 635.5,528.4 643.5,527.3 651.5,516.1 659.5,518.1 667.5,518.1 675.5,514.1 683.5,515.1 691.5,516.3 699.5,515.3 707.5,516.3 715.5,517.3 723.5,518.3 731.5,510.4 739.5,514.3 747.5,513.3 755.5,513.3 763.5,515.3 771.5,517.3 779.5,513.1 787.5,509.2 795.5,516.3 803.5,516.3 811.5,513.7 819.5,512.1 827.5,508.4 835.5,509.4 843.5,510.4 851.5,509.4 859.5,508.4 867.5,510.4 875.5,505.4 883.5,509.4 891.5,504.4 899.5,505.4 907.5,512.1 915.5,513.3" fill="none" stroke="#1e90ff" stroke-width="1" shape-rendering="crispEdges"/>
</g>
<g shape-rendering="crispEdges">
<rect x="1166" y="34" width="2" height="1" fill="#000"/>
<rect x="1166" y="67" width="2" height="1" fill="#000"/>
<rect x="1166" y="100" width="2" height="1" fill="#000"/>
<rect x="1166" y="133" width="2" height="1" fill="#000"/>
<rect x="1166" y="166" width="2" height="1" fill="#000"/>
<rect x="1166" y="199" width="2" height="1" fill="#000"/>
<rect x="1166" y="232" width="2" height="1" fill="#000"/>
<rect x="1166" y="265" width="2" height="1" fill="#000"/>
<rect x="1166" y="298" width="2" height="1" fill="#000"/>
<rect x="1166" y="331" width="2" height="1" fill="#000"/>
<rect x="1166" y="364" width="2" height="1" fill="#000"/>
<rect x="1166" y="397" width="2" height="1" fill="#000"/>
<rect x="1166" y="404" width="1" height="1" fill="#000"/>
<rect x="1166" y="418" width="1" height="1" fill="#000"/>
<rect x="1166" y="470" width="1" height="1" fill="#000"/>
<rect x="1166" y="475" width="1" height="1" fill="#000"/>
<rect x="1166" y="495" width="1" height="1" fill="#000"/>
<rect x="1166" y="523" width="1" height="1" fill="#000"/>
<rect x="1166" y="544" width="1" height="1" fill="#000"/>
<rect x="3" y="546" width="1" height="3" fill="#000"/>
<rect x="67" y="546" width="1" height="3" fill="#000"/>
<rect x="131" y="546" width="1" height="3" fill="#000"/>
<rect x="195" y="546" width="1" height="3" fill="#000"/>
<rect x="259" y="546" width="1" height="3" fill="#000"/>
<rect x="323" y="546" width="1" height="3" fill="#000"/>
<rect x="387" y="546" width="1" height="3" fill="#000"/>
<rect x="451" y="546" width="1" height="3" fill="#000"/>
<rect x="515" y="546" width="1" height="3" fill="#000"/>
<rect x="579" y="546" width="1" height="3" fill="#000"/>
<rect x="643" y="546" width="1" height="3" fill="#000"/>
<rect x="707" y="546" width="1" height="3" fill="#000"/>
<rect x="771" y="546" width="1" height="3" fill="#000"/>
<rect x="835" y="546" width="1" height="3" fill="#000"/>
<rect x="899" y="546" width="1" height="3" fill="#000"/>
</g>
<text class="ax" transform="translate(1171.5 38) scale(0.945 1)">1.19210</text>
<text class="ax" transform="translate(1171.5 71) scale(0.945 1)">1.18530</text>
<text class="ax" transform="translate(1171.5 104) scale(0.945 1)">1.17850</text>
<text class="ax" transform="translate(1171.5 137) scale(0.945 1)">1.17170</text>
<text class="ax" transform="translate(1171.5 170) scale(0.945 1)">1.16490</text>
<text class="ax" transform="translate(1171.5 203) scale(0.945 1)">1.15810</text>
<text class="ax" transform="translate(1171.5 236) scale(0.945 1)">1.15130</text>
<text class="ax" transform="translate(1171.5 269) scale(0.945 1)">1.14450</text>
<text class="ax" transform="translate(1171.5 302) scale(0.945 1)">1.13770</text>
<text class="ax" transform="translate(1171.5 335) scale(0.945 1)">1.13090</text>
<text class="ax" transform="translate(1171.5 368) scale(0.945 1)">1.12410</text>
<text class="ax" transform="translate(1171.5 401) scale(0.945 1)">1.11730</text>
<g shape-rendering="crispEdges">
<rect x="1167" y="135" width="40" height="11" fill="#ff0000"/>
<rect x="1167" y="217" width="40" height="11" fill="#ff0000"/>
<rect x="1167" y="280" width="40" height="11" fill="#00ff00"/>
<rect x="1167" y="339" width="40" height="11" fill="#000000"/>
<rect x="1167" y="378" width="40" height="11" fill="#0000ff"/>
</g>
<text class="ax" transform="translate(1171.5 144) scale(0.945 1)" style="fill:#fff;stroke:#fff">1.17001</text>
<text class="ax" transform="translate(1171.5 226) scale(0.945 1)" style="fill:#fff;stroke:#fff">1.15313</text>
<text class="ax" transform="translate(1171.5 289) scale(0.945 1)" style="fill:#fff;stroke:#fff">1.14016</text>
<text class="ax" transform="translate(1171.5 348) scale(0.945 1)" style="fill:#fff;stroke:#fff">1.12818</text>
<text class="ax" transform="translate(1171.5 387) scale(0.945 1)" style="fill:#fff;stroke:#fff">1.11999</text>
<text class="ax" transform="translate(1169 413) scale(0.945 1)">0.002966</text>
<text class="ax" transform="translate(1169 422) scale(0.945 1)">0.00</text>
<text class="ax" transform="translate(1169 469) scale(0.945 1)">-0.010422</text>
<text transform="translate(1168.3 484) scale(0.945 1)">100</text>
<text transform="translate(1168.3 499) scale(0.945 1)">70</text>
<text transform="translate(1168.3 527) scale(0.945 1)">30</text>
<text transform="translate(1168.3 542) scale(0.945 1)">0</text>
<text transform="translate(-0.5 9) scale(0.945 1)" style="fill:#4a4a4a;stroke:none">5</text>
<text transform="translate(13.8 9) scale(0.945 1)" style="fill:#4a4a4a;stroke:none">M30</text>
<text transform="translate(44.8 9) scale(0.945 1)" style="fill:#4a4a4a;stroke:none">H1</text>
<text transform="translate(72.1 9) scale(0.945 1)" style="fill:#4a4a4a;stroke:none">H4</text>
<text transform="translate(100.9 9) scale(0.945 1)" style="fill:#4a4a4a;stroke:none">D1</text>
<text transform="translate(128.6 9) scale(0.945 1)" style="fill:#4a4a4a;stroke:none">W1</text>
<text transform="translate(155 9) scale(0.945 1)" style="fill:#4a4a4a;stroke:none">MN</text>
<g shape-rendering="crispEdges"><rect x="6" y="28" width="7" height="1"/><rect x="7" y="29" width="5" height="1"/><rect x="8" y="30" width="3" height="1"/><rect x="9" y="31" width="1" height="1"/></g>
<text transform="translate(18.3 33) scale(0.945 1)" xml:space="preserve">EURUSD-,Daily  1.13011 1.13216 1.12714 1.12818</text>
<text transform="translate(7.5 415) scale(0.945 1)">MACD(12,26,9) -0.000020 -0.000212</text>
<text transform="translate(7.5 486) scale(0.945 1)">RSI(14) 44.8699</text>
<text transform="translate(1.9 558) scale(0.945 1)">24 Aug 2021</text>
<text transform="translate(65.9 558) scale(0.945 1)">2 Sep 2021</text>
<text transform="translate(129.9 558) scale(0.945 1)">12 Sep 2021</text>
<text transform="translate(193.9 558) scale(0.945 1)">21 Sep 2021</text>
<text transform="translate(257.9 558) scale(0.945 1)">30 Sep 2021</text>
<text transform="translate(321.9 558) scale(0.945 1)">10 Oct 2021</text>
<text transform="translate(385.9 558) scale(0.945 1)">19 Oct 2021</text>
<text transform="translate(449.9 558) scale(0.945 1)">28 Oct 2021</text>
<text transform="translate(513.9 558) scale(0.945 1)">7 Nov 2021</text>
<text transform="translate(577.9 558) scale(0.945 1)">16 Nov 2021</text>
<text transform="translate(641.9 558) scale(0.945 1)">25 Nov 2021</text>
<text transform="translate(705.9 558) scale(0.945 1)">5 Dec 2021</text>
<text transform="translate(769.9 558) scale(0.945 1)">14 Dec 2021</text>
<text transform="translate(833.9 558) scale(0.945 1)">23 Dec 2021</text>
<text transform="translate(897.9 558) scale(0.945 1)">2 Jan 2022</text>
<g shape-rendering="crispEdges">
<rect x="0" y="566" width="1207" height="1" fill="#e3e3e3"/>
</g>
</svg>
<div id="tabs">
<div style="position:absolute;left:105px;top:0;width:106px;height:12px;background:#fff"></div>
<div style="position:absolute;left:0;top:1px;width:104px;height:1px;background:#fff"></div>
<div style="position:absolute;left:212px;top:1px;width:995px;height:1px;background:#fff"></div>
<div style="position:absolute;left:0;top:0;width:105px;height:1px;background:#000"></div>
<div style="position:absolute;left:104px;top:0;width:1px;height:12px;background:#000"></div>
<div style="position:absolute;left:211px;top:0;width:996px;height:1px;background:#000"></div>
<div style="position:absolute;left:211px;top:0;width:1px;height:12px;background:#000"></div>
<div style="position:absolute;left:320px;top:3px;width:1px;height:9px;background:#606060"></div>
<div style="position:absolute;left:416px;top:3px;width:1px;height:9px;background:#606060"></div>
<div style="position:absolute;left:524px;top:3px;width:1px;height:9px;background:#606060"></div>
<div style="position:absolute;left:636px;top:3px;width:1px;height:9px;background:#606060"></div>
<div style="position:absolute;left:744px;top:3px;width:1px;height:9px;background:#606060"></div>
<div style="position:absolute;left:824px;top:3px;width:1px;height:9px;background:#606060"></div>
<div style="position:absolute;left:912px;top:3px;width:1px;height:9px;background:#606060"></div>
<div style="position:absolute;left:996px;top:3px;width:1px;height:9px;background:#606060"></div>
<span style="left:16px;">USDX,Weekly</span>
<span style="left:115.5px;color:#000;">EURUSD-,Daily</span>
<span style="left:222.5px;">AUDUSD-,Daily</span>
<span style="left:331.8px;">USDCHF-,H4</span>
<span style="left:427.5px;">USDCAD-,Daily</span>
<span style="left:535.8px;">USDCNH-,Daily</span>
<span style="left:647px;">XAUUSD-,Daily</span>
<span style="left:755px;">UKOil-,H4</span>
<span style="left:836px;">DJ30-,Daily</span>
<span style="left:924px;">UK100-,H1</span>
<svg width="30" height="12" style="left:1177px;top:0" viewBox="0 0 30 12"><path d="M3.5 9 L7 5.5 L7 12.5 Z M23 5.5 L26.5 9 L23 12.5 Z" fill="#a0a0a0"/></svg>
</div>
</body></html>
